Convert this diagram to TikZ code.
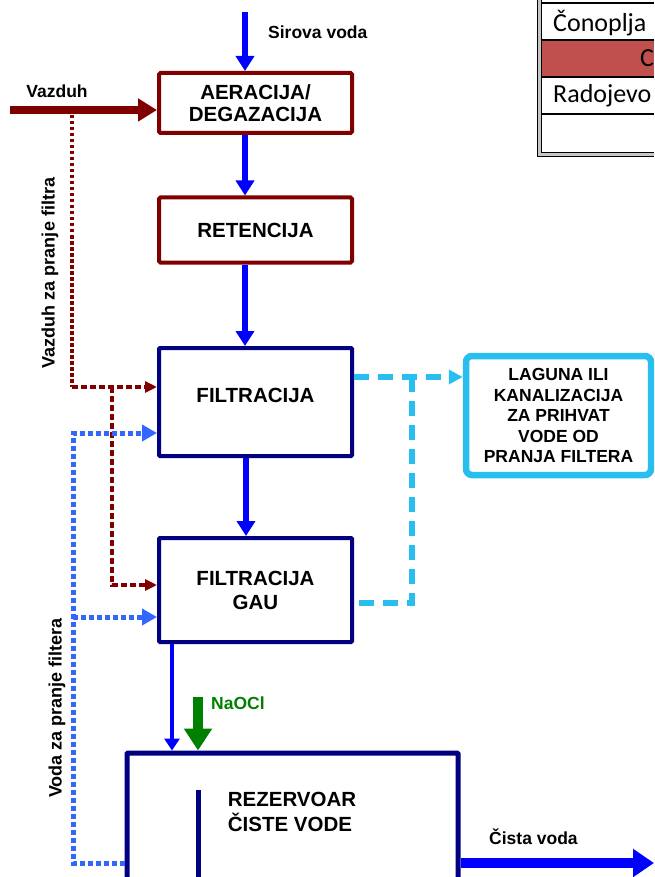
\documentclass[tikz,border=0pt]{standalone}
\usepackage{fontspec}
\setmainfont{Liberation Sans}
\newfontfamily\calfont{Carlito}
\usetikzlibrary{arrows.meta}
\definecolor{dred}{RGB}{128,0,0}
\definecolor{navyb}{RGB}{0,0,128}
\definecolor{mblue}{RGB}{0,0,255}
\definecolor{lblue}{RGB}{51,102,255}
\definecolor{cyanb}{RGB}{40,190,240}
\definecolor{dgreen}{RGB}{0,128,0}
\definecolor{tred}{RGB}{192,80,77}
\begin{document}
\begin{tikzpicture}[x=1pt,y=-1pt,
  procbox/.style={draw, rectangle, line width=4pt, minimum width=193pt, inner sep=0pt,
    font=\fontsize{20.5}{21.5}\selectfont\bfseries, align=center},
  redbox/.style={procbox, draw=dred, rounded corners=1.5pt},
  navybox/.style={procbox, draw=navyb, rounded corners=1pt},
  lagbox/.style={draw=cyanb, line width=6.5pt, rounded corners=6pt, minimum width=185pt,
    minimum height=119pt, inner sep=0pt, align=center,
    font=\fontsize{17.5}{20.5}\selectfont\bfseries},
  lbl/.style={font=\fontsize{17.5}{19}\selectfont\bfseries, inner sep=0pt},
  vlbl/.style={font=\fontsize{18}{20}\selectfont\bfseries, inner sep=0pt, rotate=90},
  tbl/.style={font=\calfont\fontsize{26}{28}\selectfont, inner sep=0pt, anchor=base west},
  flow/.style={draw=mblue, line width=5.5pt, -{Triangle[length=15pt,width=18pt]}},
  thinflow/.style={draw=mblue, line width=3.5pt, -{Triangle[length=12pt,width=15pt]}},
  bigflow/.style={draw=mblue, line width=10pt, -{Triangle[length=21pt,width=27pt]}},
  greenflow/.style={draw=dgreen, line width=10pt, -{Triangle[length=22pt,width=27pt]}},
  airflow/.style={draw=dred, line width=8pt, -{Triangle[length=19pt,width=22pt]}},
  reddotthin/.style={draw=dred, line width=3.5pt, dash pattern=on 3.5pt off 2.5pt},
  reddot/.style={draw=dred, line width=4pt, dash pattern=on 6pt off 3pt},
  redtip/.style={-{Triangle[length=12pt,width=11pt]}},
  bluedot/.style={draw=lblue, line width=5pt, dash pattern=on 5pt off 3pt},
  bluetip/.style={-{Triangle[length=15pt,width=16pt]}},
  cyandash/.style={draw=cyanb, line width=5.5pt, dash pattern=on 15pt off 9pt},
  cyantip/.style={-{Triangle[length=14pt,width=14pt]}}
]
\useasboundingbox (0,0) rectangle (654,877);
\clip (0,0) rectangle (654,877);

% table fragment
\fill[tred] (541,41) rectangle (654,76);
\fill[gray!45] (537,0) rectangle (541,156);
\draw[line width=0.8pt] (537,0) -- (537,156) (541,0) -- (541,152);
\draw[line width=2pt] (541,3) -- (654,3) (541,40) -- (654,40) (541,77) -- (654,77) (541,114) -- (654,114);
\fill[gray!45] (541,152) rectangle (654,156);
\draw[line width=0.8pt] (537,156) -- (654,156) (541,152) -- (654,152);
\node[tbl] (t1) at (553,32) {Čonoplja};
\node[tbl] (t2) at (640,67) {C};
\node[tbl] (t3) at (553,103) {Radojevo};

% process boxes
\node[redbox, minimum height=60pt] (aer) at (255.5,103) {AERACIJA/\\DEGAZACIJA};
\node[redbox, minimum height=65pt] (ret) at (255.5,230) {RETENCIJA};
\node[navybox, minimum height=108pt] (fil) at (255.5,402) {};
\node[procbox, draw=none] (filt) at (255.5,395) {FILTRACIJA};
\node[navybox, minimum height=104pt] (gau) at (255.5,590) {};
\node[procbox, draw=none] (gaut) at (255.5,590.5) {FILTRACIJA\\[3pt]GAU};
\node[navybox, line width=5pt, minimum width=331pt, minimum height=127pt] (rez) at (292.5,816.5) {};
\node[procbox, draw=none, align=left, font=\fontsize{20.5}{25}\selectfont\bfseries] (rezt) at (292,812) {REZERVOAR\\ČISTE VODE};
\node[lagbox] (lag) at (558.5,415.5) {LAGUNA ILI\\KANALIZACIJA\\ZA PRIHVAT\\VODE OD\\PRANJA FILTERA};

% labels
\node[lbl, anchor=west] (sirl) at (268,32) {Sirova voda};
\node[lbl] (vzl) at (57,91) {Vazduh};
\node[lbl, anchor=west, text=dgreen] (nal) at (211,703) {NaOCl};
\node[lbl, anchor=west] (cvl) at (489,837) {Čista voda};
\node[vlbl] (vzf) at (50,273) {Vazduh za pranje filtra};
\node[vlbl] (vdf) at (57,708) {Voda za pranje filtera};

% main water flow
\coordinate (sv) at (245,12);
\coordinate (fx) at (246,0);
\draw[flow] (sv) -- (sv |- aer.north);
\draw[flow] (aer.south -| sv) -- (ret.north -| sv);
\draw[flow] (ret.south -| sv) -- (fil.north -| sv);
\draw[flow] (fil.south -| fx) -- (gau.north -| fx);
\coordinate (gx) at (172,0);
\draw[thinflow] (gau.south -| gx) -- (rez.north -| gx);
\coordinate (na) at (198,697);
\draw[greenflow] (na) -- (na |- rez.north);
\coordinate (w1) at (198,790);
\coordinate (w2) at (198,880);
\draw[navyb, line width=5pt] (w1) -- (w2);
\coordinate (cv) at (654,863);
\draw[bigflow] (cv -| rez.east) -- (cv);

% air
\coordinate (vz) at (10,110);
\draw[airflow] (vz) -- (vz -| aer.west);
\coordinate (rtop) at (72,115);
\coordinate (rc) at (72,387);
\coordinate (rb) at (112,387);
\coordinate (rbb) at (112,585);
\draw[reddotthin] (rtop) -- (rc);
\draw[reddot, redtip] (rc) -- (rc -| fil.west);
\draw[reddot, redtip] (rb) -- (rbb) -- (rbb -| gau.west);

% wash water
\coordinate (b1) at (73,433);
\coordinate (b2) at (73,617);
\coordinate (b3) at (73,863);
\draw[bluedot, bluetip] (b3 -| rez.west) -- (b3) -- (b1) -- (b1 -| fil.west);
\draw[bluedot, bluetip] (b2) -- (b2 -| gau.west);

% to lagoon
\coordinate (c1) at (412,377);
\coordinate (c2) at (412,603);
\draw[cyandash, cyantip] (c1 -| fil.east) -- (c1 -| lag.west);
\draw[cyandash] (c1) -- (c2) -- (c2 -| gau.east);
\end{tikzpicture}
\end{document}
